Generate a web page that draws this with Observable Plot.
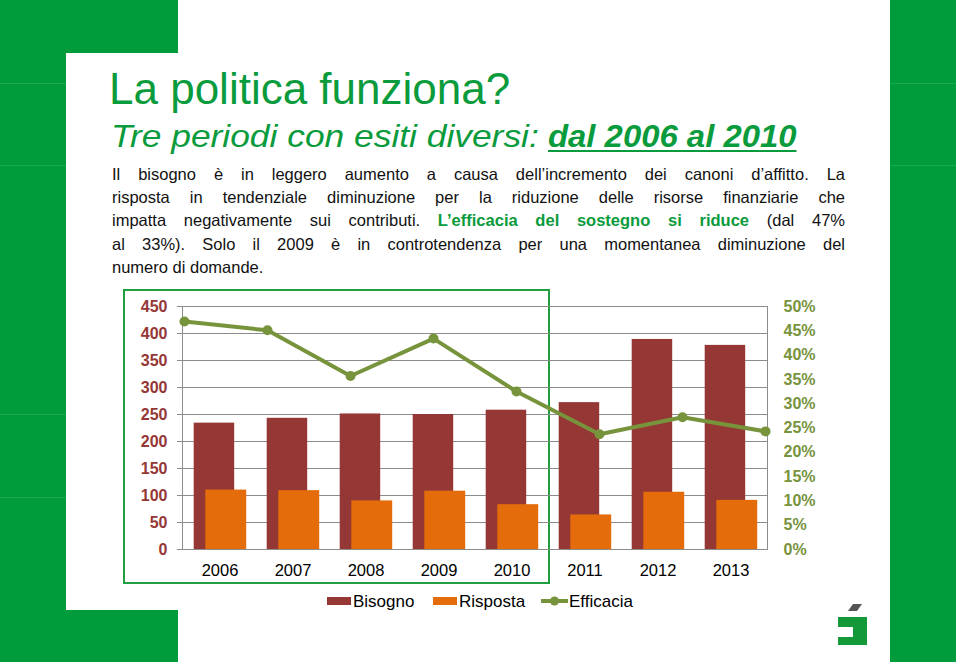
<!DOCTYPE html>
<html>
<head>
<meta charset="utf-8">
<script src="https://cdn.jsdelivr.net/npm/d3@7"></script>
<script src="https://cdn.jsdelivr.net/npm/@observablehq/plot@0.6"></script>
<style>
  html, body { margin:0; padding:0; background:#fff; }
  body { width:960px; height:664px; position:relative; overflow:hidden; font-family:"Liberation Sans", Arial, sans-serif; }
  .g { position:absolute; background:#009b3a; }
  .seam { position:absolute; height:1px; background:#1aa94c; }
  #title { position:absolute; left:109px; top:67px; font-size:44px; line-height:44px; color:#0a9b3c; white-space:nowrap; }
  .sub { position:absolute; top:120px; font-size:32px; line-height:32px; color:#0a9b3c; font-style:italic; white-space:nowrap; transform-origin:0 50%; }
  #sub1 { left:111px; transform:scaleX(1.105); }
  #sub2 { left:548px; transform:scaleX(1.027); font-weight:bold; text-decoration:underline; text-decoration-thickness:2px; text-underline-offset:3px; }
  #body { position:absolute; left:112px; top:163px; width:733px; font-size:16.5px; line-height:23.2px; color:#111; }
  #body div { white-space:nowrap; text-align:justify; text-align-last:justify; }
  #body div.last { text-align-last:left; }
  #body .hl { color:#0a9b3c; font-weight:bold; }
  #box { position:absolute; left:123px; top:289px; width:423px; height:291px; border:2px solid #1f9f3f; }
  .plot { position:absolute; left:100px; top:290px; }
</style>
</head>
<body>
<div class="g" style="left:0;top:0;width:178px;height:53px"></div>
<div class="g" style="left:0;top:0;width:66px;height:662px"></div>
<div class="g" style="left:0;top:610px;width:178px;height:52px"></div>
<div class="g" style="left:890px;top:0;width:66px;height:662px"></div>
<div class="seam" style="left:0;top:83px;width:66px"></div>
<div class="seam" style="left:0;top:165px;width:66px"></div>
<div class="seam" style="left:0;top:414px;width:66px"></div>
<div class="seam" style="left:0;top:497px;width:66px"></div>
<div class="seam" style="left:890px;top:83px;width:66px"></div>
<div class="seam" style="left:890px;top:165px;width:66px"></div>

<div id="title">La politica funziona?</div>
<div class="sub" id="sub1">Tre periodi con esiti diversi:</div>
<div class="sub" id="sub2">dal 2006 al 2010</div>
<div id="body">
  <div>Il bisogno è in leggero aumento a causa dell’incremento dei canoni d’affitto. La</div>
  <div>risposta in tendenziale diminuzione per la riduzione delle risorse finanziarie che</div>
  <div>impatta negativamente sui contributi. <span class="hl">L’efficacia del sostegno si riduce</span> (dal 47%</div>
  <div>al 33%). Solo il 2009 è in controtendenza per una momentanea diminuzione del</div>
  <div class="last">numero di domande.</div>
</div>

<div id="box"></div>
<div id="charts"></div>

<svg id="legend" width="960" height="664" style="position:absolute;left:0;top:0;pointer-events:none">
  <rect x="327" y="597" width="24" height="8" fill="#953735"/>
  <text x="353" y="607" font-size="17" fill="#000" font-family="Liberation Sans, Arial, sans-serif">Bisogno</text>
  <rect x="433" y="597" width="24" height="8" fill="#e46c0a"/>
  <text x="459" y="607" font-size="17" fill="#000" font-family="Liberation Sans, Arial, sans-serif">Risposta</text>
  <line x1="541" y1="601" x2="568" y2="601" stroke="#77933c" stroke-width="4"/>
  <circle cx="554.5" cy="601" r="4.5" fill="#77933c"/>
  <text x="569" y="607" font-size="17" fill="#000" font-family="Liberation Sans, Arial, sans-serif">Efficacia</text>
  <path d="M838,617 H867 V645 H838 V637 H853 V627 H838 Z" fill="#13983a"/>
  <path d="M853,604 H862 L857,611 H848 Z" fill="#555"/>
</svg>

<script>
// ---- data ----
const years     = ["2006", "2007", "2008", "2009", "2010", "2011", "2012", "2013"];
const bisogno   = [234, 243, 251, 250, 258, 272, 389, 378];
const risposta  = [110, 109, 90, 108, 83, 64, 106, 91];
const efficacia = [46.9, 45.1, 35.7, 43.4, 32.5, 23.7, 27.2, 24.3];
const leftTicks  = [0, 50, 100, 150, 200, 250, 300, 350, 400, 450];
const rightTicks = [0, 5, 10, 15, 20, 25, 30, 35, 40, 45, 50];

const table = years.map((year, i) => ({year, bisogno: bisogno[i], risposta: risposta[i], efficacia: efficacia[i]}));

const common = {
  width: 740, height: 300,
  marginLeft: 82, marginRight: 73, marginTop: 16, marginBottom: 41,
  x: {domain: years, padding: 0, axis: null, label: null},
  style: {background: "transparent", fontFamily: "Liberation Sans, Arial, sans-serif", overflow: "visible"}
};

const grey = "#8c8c8c";

const p1 = Plot.plot({
  ...common,
  y: {domain: [0, 450], axis: null, label: null},
  marks: [
    Plot.ruleY(leftTicks, {stroke: grey, strokeWidth: 1}),
    Plot.frame({stroke: grey, strokeWidth: 1}),
    Plot.barY(table, {x: "year", y: "bisogno", fill: "#953735", insetLeft: 10.7, insetRight: 21.8}),
    Plot.barY(table, {x: "year", y: "risposta", fill: "#e46c0a", insetLeft: 22.3, insetRight: 9.8}),
    Plot.axisY(leftTicks, {anchor: "left", label: null, tickSize: 5, tickPadding: 10, stroke: grey, fill: "#953735", fontWeight: "bold", fontSize: 16}),
    Plot.axisX(years, {anchor: "bottom", label: null, tickSize: 0, tickPadding: 15, fill: "#000", fontSize: 16.5})
  ]
});

const p2 = Plot.plot({
  ...common,
  y: {domain: [0, 50], axis: null, label: null},
  marks: [
    Plot.line(table, {x: "year", y: "efficacia", stroke: "#77933c", strokeWidth: 4}),
    Plot.dot(table, {x: "year", y: "efficacia", fill: "#77933c", r: 5}),
    Plot.axisY(rightTicks, {anchor: "right", label: null, tickSize: 0, tickPadding: 16, tickFormat: d => d + "%", fill: "#77933c", fontWeight: "bold", fontSize: 16})
  ]
});

p1.classList.add("plot");
p2.classList.add("plot");
document.getElementById("charts").append(p1, p2);
</script>
</body>
</html>
